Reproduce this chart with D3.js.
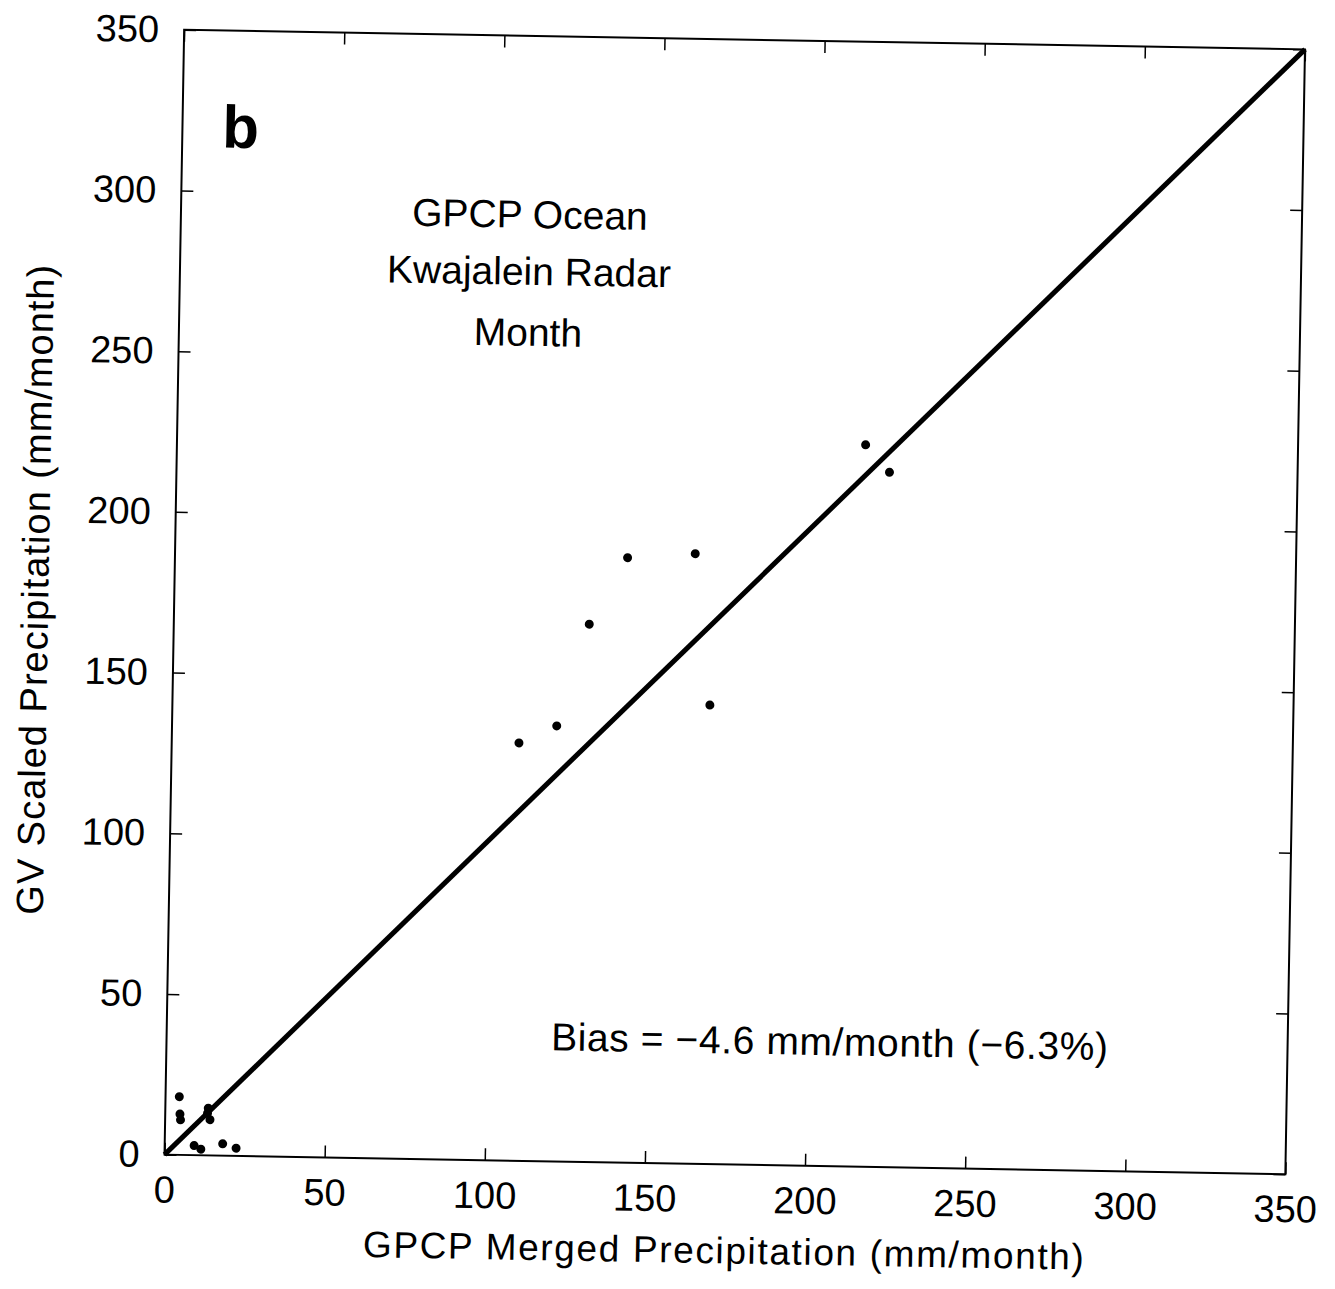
<!DOCTYPE html>
<html>
<head>
<meta charset="utf-8">
<script src="https://cdn.jsdelivr.net/npm/d3@7"></script>
<style>
  body { margin: 0; background: #fff; }
  text { font-family: "Liberation Sans", Arial, sans-serif; fill: #000; }
</style>
</head>
<body>
<script>
// GPCP merged (x) vs GV scaled (y), mm/month
var gpcpMerged = [215.0, 222.6, 141.3, 162.4, 129.7, 167.8, 120.1, 108.4,
                  4.3, 4.6, 4.8, 13.4, 13.2, 14.0, 9.2, 11.3, 18.1, 22.3];
var gvScaled   = [224.6, 216.2, 188.2, 189.8, 167.3, 142.8, 135.5, 130.0,
                  18.1, 12.7, 10.9, 14.7, 13.1, 11.1, 3.0, 1.9, 3.7, 2.4];
var tickVals = [0, 50, 100, 150, 200, 250, 300, 350];
var oneToOne = [[0, 0], [350, 350]];
var panelLabel = "b";
var titleLines = ["GPCP Ocean", "Kwajalein Radar", "Month"];
var biasText = "Bias = \u22124.6 mm/month (\u22126.3%)";
var xTitle = "GPCP Merged Precipitation (mm/month)";
var yTitle = "GV Scaled Precipitation (mm/month)";

var w = 1335;
var h = 1289;
var plotLeft = 174.25, plotTop = 39.5; // note: "top" is taken by window.top
var pw = 1121, ph = 1125;

var dataset = gpcpMerged.map(function(d, i) { return [d, gvScaled[i]]; });

var xScale = d3.scaleLinear().domain([0, 350]).range([0, pw]);
var yScale = d3.scaleLinear().domain([0, 350]).range([ph, 0]);

var svg = d3.select("body")
    .append("svg")
    .attr("width", w)
    .attr("height", h);

// the scan is tilted about 1 degree clockwise
var g = svg.append("g")
    .attr("transform", "rotate(1," + (plotLeft + pw / 2) + "," + (plotTop + ph / 2) + ") translate(" + plotLeft + "," + plotTop + ")");

//axes with inward ticks
var xAxis = g.append("g")
    .attr("transform", "translate(0," + ph + ")")
    .call(d3.axisBottom(xScale).tickValues(tickVals).tickSize(-12).tickPadding(21).tickFormat(d3.format("d")));
var yAxis = g.append("g")
    .call(d3.axisLeft(yScale).tickValues(tickVals).tickSize(-12).tickPadding(25).tickFormat(d3.format("d")));
var xTop = g.append("g")
    .call(d3.axisTop(xScale).tickValues(tickVals).tickSize(-12).tickFormat(""));
var yRight = g.append("g")
    .attr("transform", "translate(" + pw + ",0)")
    .call(d3.axisRight(yScale).tickValues(tickVals).tickSize(-12).tickFormat(""));

g.selectAll(".domain").remove();
g.selectAll(".tick line").attr("stroke", "#000").attr("stroke-width", 1.5);
g.selectAll(".tick text")
    .attr("font-size", "38px")
    .attr("font-family", "'Liberation Sans', Arial, sans-serif")
    .attr("fill", "#000");

//frame
g.append("rect")
    .attr("x", 0).attr("y", 0)
    .attr("width", pw).attr("height", ph)
    .attr("fill", "none")
    .attr("stroke", "#000")
    .attr("stroke-width", 2);

//1:1 line
g.append("path")
    .datum(oneToOne)
    .attr("d", d3.line().x(function(d) { return xScale(d[0]); }).y(function(d) { return yScale(d[1]); }))
    .attr("stroke", "#000")
    .attr("stroke-width", 5)
    .attr("fill", "none");

//points
g.selectAll("circle")
    .data(dataset)
    .enter()
    .append("circle")
    .attr("cx", function(d) { return xScale(d[0]); })
    .attr("cy", function(d) { return yScale(d[1]); })
    .attr("r", 4.5)
    .attr("fill", "#000");

//texts
g.append("text")
    .attr("x", 40).attr("y", 117)
    .attr("font-size", "60px")
    .attr("font-weight", "bold")
    .text(panelLabel);

var titleY = [192, 249, 310];
g.selectAll(".title")
    .data(titleLines)
    .enter()
    .append("text")
    .attr("class", "title")
    .attr("x", 349)
    .attr("y", function(d, i) { return titleY[i]; })
    .attr("text-anchor", "middle")
    .attr("font-size", "39px")
    .text(function(d) { return d; });

g.append("text")
    .attr("x", 663).attr("y", 1014)
    .attr("text-anchor", "middle")
    .attr("font-size", "39px")
    .attr("textLength", 557)
    .text(biasText);

g.append("text")
    .attr("x", pw / 2).attr("y", ph + 99)
    .attr("text-anchor", "middle")
    .attr("font-size", "37px")
    .attr("textLength", 721)
    .text(xTitle);

g.append("text")
    .attr("transform", "translate(-126," + (ph / 2) + ") rotate(-90)")
    .attr("text-anchor", "middle")
    .attr("font-size", "38px")
    .attr("textLength", 650)
    .text(yTitle);
</script>
</body>
</html>
